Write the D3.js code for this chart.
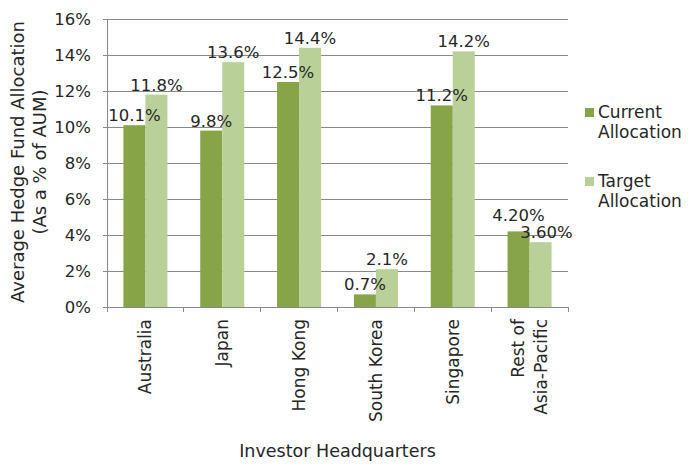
<!DOCTYPE html>
<html>
<head>
<meta charset="utf-8">
<script src="https://cdn.jsdelivr.net/npm/d3@7"></script>
<style>
  body { margin: 0; background: #fff; }
  svg text { font-family: "DejaVu Sans", sans-serif; fill: #262626; }
</style>
</head>
<body>
<svg width="689" height="467"></svg>
<script>
// chart data
var categories = ["Australia", "Japan", "Hong Kong", "South Korea", "Singapore", "Rest of\nAsia-Pacific"];
var currentAlloc = [10.1, 9.8, 12.5, 0.7, 11.2, 4.2];
var targetAlloc = [11.8, 13.6, 14.4, 2.1, 14.2, 3.6];
var currentLabels = ["10.1%", "9.8%", "12.5%", "0.7%", "11.2%", "4.20%"];
var targetLabels = ["11.8%", "13.6%", "14.4%", "2.1%", "14.2%", "3.60%"];
var yTicks = [0, 2, 4, 6, 8, 10, 12, 14, 16];
var seriesNames = ["Current\nAllocation", "Target\nAllocation"];

var colors = ["#87a449", "#b9d098"];

var svg = d3.select("svg"),
    margin = {left: 107, right: 121, top: 19, bottom: 160},
    width = +svg.attr("width") - margin.left - margin.right,
    height = +svg.attr("height") - margin.top - margin.bottom;

var g = svg.append("g").attr("transform", "translate(" + margin.left + "," + margin.top + ")");

var x = d3.scaleBand().domain(d3.range(categories.length)).range([0, width]).paddingInner(0).paddingOuter(0);
var xInner = d3.scaleBand().domain([0, 1]).range([0, x.bandwidth()]).paddingInner(0).paddingOuter(0.745);
var y = d3.scaleLinear().domain([0, 16]).range([height, 0]);

// gridlines
g.append("g").selectAll("line").data(yTicks).enter().append("line")
  .attr("x1", 0).attr("x2", width)
  .attr("y1", function(d) { return y(d); }).attr("y2", function(d) { return y(d); })
  .attr("stroke", "#898989").attr("stroke-width", 1).attr("shape-rendering", "crispEdges");

// y axis
var yAxis = g.append("g")
  .call(d3.axisLeft(y).tickValues(yTicks).tickSize(4).tickPadding(12).tickFormat(function(d) { return d + "%"; }));
yAxis.select(".domain").attr("stroke", "#898989");
yAxis.selectAll(".tick line").attr("stroke", "#898989");
yAxis.selectAll("text").style("font-size", "16.5px").attr("fill", "#262626").style("font-family", "DejaVu Sans, sans-serif");

// bars
var groups = g.append("g").selectAll("g").data(categories).enter().append("g")
  .attr("transform", function(d, i) { return "translate(" + x(i) + ",0)"; });

var allVals = [currentAlloc, targetAlloc];
var allLabels = [currentLabels, targetLabels];

groups.each(function(d, i) {
  var grp = d3.select(this);
  [0, 1].forEach(function(s) {
    grp.append("rect")
      .attr("x", xInner(s))
      .attr("width", xInner.bandwidth())
      .attr("y", y(allVals[s][i]))
      .attr("height", height - y(allVals[s][i]))
      .attr("fill", colors[s]);
  });
});

// data labels
groups.each(function(d, i) {
  var grp = d3.select(this);
  var labels = [0, 1].map(function(s) {
    return grp.append("text")
      .attr("x", xInner(s) + xInner.bandwidth() / 2)
      .attr("y", y(allVals[s][i]) - 4)
      .attr("text-anchor", "middle")
      .style("font-size", "16.5px")
      .text(allLabels[s][i]);
  });
  // nudge overlapping labels apart
  var a = labels[0].node().getBBox(), b = labels[1].node().getBBox();
  var overlapX = a.x + a.width > b.x && b.x + b.width > a.x;
  var overlapY = a.y + a.height > b.y && b.y + b.height > a.y;
  if (overlapX && overlapY) {
    var lower = allVals[0][i] < allVals[1][i] ? 0 : 1;
    var upper = 1 - lower;
    var lb = lower === 0 ? a : b;
    var ub = upper === 0 ? a : b;
    var shift = (ub.y + ub.height) - lb.y - 2;
    labels[upper].attr("y", +labels[upper].attr("y") - shift);
    labels[1].attr("x", +labels[1].attr("x") + 6);
  }
});

// x axis
var xAxisG = g.append("g").attr("transform", "translate(0," + height + ")");
xAxisG.append("line").attr("x1", 0).attr("x2", width).attr("stroke", "#898989").attr("shape-rendering", "crispEdges");
xAxisG.selectAll("line.tick").data(d3.range(categories.length + 1)).enter().append("line")
  .attr("class", "tick")
  .attr("x1", function(d) { return d * x.step(); }).attr("x2", function(d) { return d * x.step(); })
  .attr("y1", 0).attr("y2", 5)
  .attr("stroke", "#898989").attr("shape-rendering", "crispEdges");

xAxisG.selectAll("text.cat").data(categories).enter().append("text")
  .attr("class", "cat")
  .attr("transform", function(d, i) { return "translate(" + (x(i) + x.bandwidth() / 2) + ",12) rotate(-90)"; })
  .attr("text-anchor", "end")
  .style("font-size", "17px")
  .each(function(d) {
    var lines = d.split("\n");
    var t = d3.select(this);
    lines.forEach(function(line, k) {
      t.append("tspan")
        .attr("x", 0)
        .attr("y", (k - (lines.length - 1) / 2) * 23)
        .attr("dy", "0.35em")
        .text(line);
    });
  });

// axis titles
svg.append("text")
  .attr("transform", "translate(18," + (margin.top + height / 2 - 1) + ") rotate(-90)")
  .attr("text-anchor", "middle")
  .attr("dy", "0.35em")
  .style("font-size", "18px")
  .text("Average Hedge Fund Allocation");
svg.append("text")
  .attr("transform", "translate(40," + (margin.top + height / 2 - 1) + ") rotate(-90)")
  .attr("text-anchor", "middle")
  .attr("dy", "0.35em")
  .style("font-size", "18px")
  .text("(As a % of AUM)");

svg.append("text")
  .attr("x", margin.left + width / 2)
  .attr("y", 457)
  .attr("text-anchor", "middle")
  .style("font-size", "17.5px")
  .text("Investor Headquarters");

// legend
var legend = svg.append("g").attr("transform", "translate(585,108)");
seriesNames.forEach(function(name, s) {
  var lg = legend.append("g").attr("transform", "translate(0," + (s * 69) + ")");
  lg.append("rect").attr("width", 9).attr("height", 9).attr("fill", colors[s]);
  var t = lg.append("text").attr("x", 13).style("font-size", "17px");
  name.split("\n").forEach(function(line, k) {
    t.append("tspan").attr("x", 13).attr("y", 10 + k * 20).text(line);
  });
});
</script>
</body>
</html>
